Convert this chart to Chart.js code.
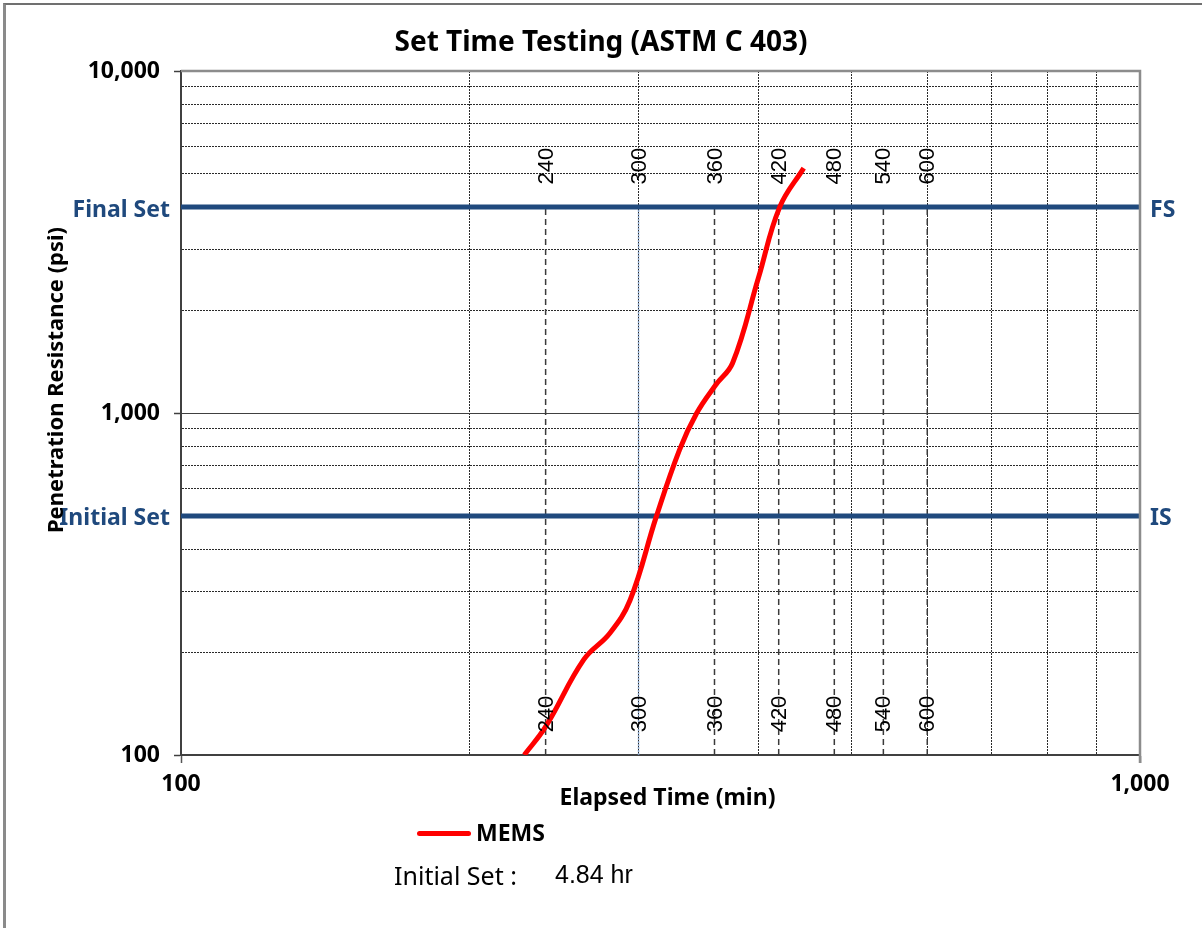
<!DOCTYPE html>
<html>
<head>
<meta charset="utf-8">
<title>Set Time Testing (ASTM C 403)</title>
<script src="https://cdn.jsdelivr.net/npm/chart.js@4.4.1/dist/chart.umd.min.js"></script>
<style>
    html, body { margin: 0; padding: 0; background: #fff; }
    body { width: 1202px; height: 928px; position: relative; overflow: hidden; font-family: "Noto Sans", sans-serif; }
    #frame { position: absolute; left: 3px; top: 3px; width: 1300px; height: 1000px;
             border-left: 3px solid #8a8a8a; border-top: 2px solid #707070; }
    #chart { position: absolute; left: 0; top: 0; }
    .legend-line { position: absolute; left: 417px; top: 831px; width: 54px; height: 5px;
                   background: #ff0000; border-radius: 3px; }
    .legend-text { position: absolute; left: 476px; top: 821px; font: bold 23px/1 "Noto Sans", sans-serif; color: #000; }
    .note-label { position: absolute; left: 394px; top: 863px; font: 25px/1 "Noto Sans", sans-serif; color: #000; }
    .note-value { position: absolute; left: 555px; top: 862px; font: 25px/1 "Liberation Sans", Arial, sans-serif; color: #000; }
</style>
</head>
<body>
<div id="frame"></div>
<canvas id="chart" width="1202" height="928"></canvas>
<div class="legend-line"></div>
<div class="legend-text">MEMS</div>
<div class="note-label">Initial Set :</div>
<div class="note-value">4.84 hr</div>

<script>
// Set Time Testing — penetration resistance vs elapsed time (log-log)

// ------------------------------------------------------------
// data
// ------------------------------------------------------------
const MEMS_TIME = [228, 240, 263, 280, 294, 313, 331, 345, 361, 376, 400, 421, 446];   // min
const MEMS_PSI  = [100, 121, 190, 227, 284, 497, 780, 1000, 1207, 1400, 2480, 4000, 5200];

const SET_LEVELS = [4000, 500];                 // psi
const SET_NAMES  = ["Final Set", "Initial Set"];
const SET_TAGS   = ["FS", "IS"];

const MARK_TIMES = [240, 300, 360, 420, 480, 540, 600];   // min, vertical reference lines

const X_TICKS = [100, 200, 300, 400, 500, 600, 700, 800, 900, 1000];
const Y_TICKS = [100, 200, 300, 400, 500, 600, 700, 800, 900,
                 1000, 2000, 3000, 4000, 5000, 6000, 7000, 8000, 9000, 10000];
const X_LABELED = [100, 1000];
const Y_LABELED = [100, 1000, 10000];

const TITLE   = "Set Time Testing (ASTM C 403)";
const X_TITLE = "Elapsed Time (min)";
const Y_TITLE = "Penetration Resistance (psi)";

const SET_COLOR = "#1F497D";
const BOLD = 'bold 23px "Noto Sans", sans-serif';

// ------------------------------------------------------------
// datasets
// ------------------------------------------------------------
const memsData = MEMS_TIME.map((t, i) => ({ x: t, y: MEMS_PSI[i] }));

const datasets = [
    {
        label: "MEMS",
        data: memsData,
        showLine: true,
        borderColor: "#ff0000",
        borderWidth: 5,
        pointRadius: 0,
        tension: 0.4,
        order: 0,
    },
    ...SET_LEVELS.map((v, i) => ({
        label: SET_NAMES[i],
        data: [{ x: X_TICKS[0], y: v }, { x: X_TICKS[X_TICKS.length - 1], y: v }],
        showLine: true,
        borderColor: SET_COLOR,
        borderWidth: 5,
        pointRadius: 0,
        order: 1,
    })),
    ...MARK_TIMES.map(t => ({
        label: String(t),
        data: [{ x: t, y: Y_TICKS[0] }, { x: t, y: SET_LEVELS[0] }],
        showLine: true,
        borderColor: t === 300 ? "rgba(130,160,200,0.9)" : "#3a3a3a",
        borderDash: t === 300 ? [2, 1] : [6, 4],
        borderWidth: 1.5,
        pointRadius: 0,
        order: 2,
    })),
];

// ------------------------------------------------------------
// overlay: frame, set labels, rotated marks, axis titles
// ------------------------------------------------------------
const overlayPlugin = {
    id: "overlay",
    afterDatasetsDraw(chart) {
        const { ctx, chartArea: a, scales: { x, y } } = chart;
        ctx.save();

        // top + right frame of plot area
        ctx.strokeStyle = "#8c8c8c";
        ctx.lineWidth = 2.5;
        ctx.beginPath();
        ctx.moveTo(a.left, a.top);
        ctx.lineTo(a.right, a.top);
        ctx.lineTo(a.right, a.bottom + 8);
        ctx.stroke();

        // set level labels
        ctx.font = BOLD;
        ctx.fillStyle = SET_COLOR;
        ctx.textBaseline = "middle";
        SET_LEVELS.forEach((v, i) => {
            const py = y.getPixelForValue(v) + 3;
            ctx.textAlign = "right";
            ctx.fillText(SET_NAMES[i], a.left - 11, py);
            ctx.textAlign = "left";
            ctx.fillText(SET_TAGS[i], a.right + 10, py);
        });

        // rotated time marks
        ctx.font = '22px "Liberation Sans", Arial, sans-serif';
        ctx.fillStyle = "#000";
        ctx.textAlign = "center";
        const topY = y.getPixelForValue(SET_LEVELS[0]) - 41;
        const botY = a.bottom - 41;
        MARK_TIMES.forEach(t => {
            const px = x.getPixelForValue(t) + 1;
            [topY, botY].forEach(py => {
                ctx.save();
                ctx.translate(px, py);
                ctx.rotate(-Math.PI / 2);
                ctx.fillText(String(t), 0, 0);
                ctx.restore();
            });
        });

        // axis titles
        ctx.font = BOLD;
        ctx.fillStyle = "#000";
        ctx.fillText(X_TITLE, (a.left + a.right) / 2 + 7, a.bottom + 43);
        ctx.font = 'bold 22px "Noto Sans", sans-serif';
        ctx.save();
        ctx.translate(a.left - 124, (a.top + a.bottom) / 2 - 33);
        ctx.rotate(-Math.PI / 2);
        ctx.fillText(Y_TITLE, 0, 0);
        ctx.restore();

        ctx.restore();
    },
};

// ------------------------------------------------------------
// chart
// ------------------------------------------------------------
const isMinor = (v, labeled) => !labeled.includes(v);
const tickFont = { family: '"Noto Sans", sans-serif', size: 23, weight: "bold" };

new Chart(document.getElementById("chart"), {
    type: "scatter",
    data: { datasets },
    plugins: [overlayPlugin],
    options: {
        responsive: false,
        animation: false,
        events: [],
        layout: { padding: 0 },
        plugins: {
            legend: { display: false },
            tooltip: { enabled: false },
            title: {
                display: true,
                text: TITLE,
                color: "#000",
                font: { family: '"Noto Sans", sans-serif', size: 28, weight: "bold" },
                padding: { top: 26, bottom: 11.4 },
            },
        },
        scales: {
            x: {
                type: "logarithmic",
                min: 100,
                max: 1000,
                afterBuildTicks: s => { s.ticks = X_TICKS.map(v => ({ value: v })); },
                afterFit: s => { s.height = 173; },
                ticks: {
                    autoSkip: false,
                    maxRotation: 0,
                    padding: 8,
                    color: "#000",
                    font: tickFont,
                    callback: v => X_LABELED.includes(v) ? v.toLocaleString("en-US") : "",
                },
                grid: {
                    color: c => (c.tick && isMinor(c.tick.value, X_LABELED)) ? "#2a2a2a" : "transparent",
                    lineWidth: 1,
                    tickLength: 8,
                    tickWidth: 1.5,
                    tickColor: c => (c.tick && !isMinor(c.tick.value, X_LABELED)) ? "#555" : "transparent",
                },
                border: {
                    display: true,
                    color: "#404040",
                    width: 2,
                    dash: c => (c.tick && isMinor(c.tick.value, X_LABELED)) ? [2, 1] : [],
                },
            },
            y: {
                type: "logarithmic",
                min: 100,
                max: 10000,
                afterBuildTicks: s => { s.ticks = Y_TICKS.map(v => ({ value: v })); },
                afterFit: s => { s.width = 181; },
                ticks: {
                    autoSkip: false,
                    padding: 14,
                    color: "#000",
                    font: tickFont,
                    callback: v => Y_LABELED.includes(v) ? v.toLocaleString("en-US") : "",
                },
                grid: {
                    color: c => {
                        if (!c.tick) return "transparent";
                        if (c.tick.value === 1000) return "#404040";
                        return isMinor(c.tick.value, Y_LABELED) ? "#2a2a2a" : "transparent";
                    },
                    lineWidth: 1,
                    tickLength: 7,
                    tickWidth: 1.5,
                    tickColor: c => (c.tick && !isMinor(c.tick.value, Y_LABELED)) ? "#404040" : "transparent",
                },
                border: {
                    display: true,
                    color: "#404040",
                    width: 2,
                    dash: c => (c.tick && isMinor(c.tick.value, Y_LABELED)) ? [2, 1] : [],
                },
            },
            // empty right-hand gutter so the title centres on the full width
            gutter: {
                type: "linear",
                position: "right",
                display: true,
                afterFit: s => { s.width = 62; },
                ticks: { display: false },
                grid: { display: false, drawTicks: false },
                border: { display: false },
            },
        },
    },
});
</script>
</body>
</html>
